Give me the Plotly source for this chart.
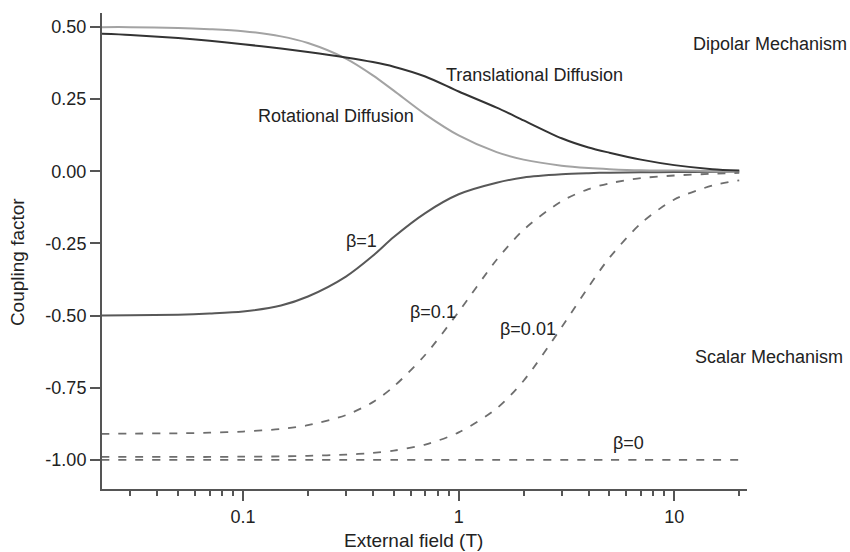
import plotly.graph_objects as go

# External field values (T) at which the coupling factors are sampled
field = [0.022, 0.03, 0.05, 0.07, 0.1, 0.15, 0.2, 0.3, 0.4, 0.5, 0.7,
         1, 1.5, 2, 3, 4, 5, 7, 10, 15, 20]

# Dipolar mechanism
rotational = [0.499, 0.499, 0.496, 0.492, 0.485, 0.467, 0.444, 0.390, 0.332, 0.279, 0.197,
              0.124, 0.066, 0.040, 0.019, 0.011, 0.007, 0.003, 0.002, 0.001, 0.0]
translational = [0.476, 0.472, 0.461, 0.452, 0.440, 0.425, 0.413, 0.394, 0.378, 0.362, 0.328,
                 0.276, 0.220, 0.176, 0.114, 0.082, 0.064, 0.040, 0.021, 0.007, 0.002]

# Scalar mechanism for several beta values
beta_1 = [-0.500, -0.499, -0.497, -0.493, -0.486, -0.465, -0.434, -0.365, -0.293, -0.228, -0.145,
          -0.080, -0.040, -0.022, -0.011, -0.007, -0.005, -0.004, -0.003, -0.002, -0.001]
beta_01 = [-0.910, -0.909, -0.908, -0.906, -0.902, -0.893, -0.880, -0.845, -0.800, -0.746, -0.636,
           -0.487, -0.307, -0.203, -0.104, -0.062, -0.042, -0.024, -0.015, -0.009, -0.006]
beta_001 = [-0.990, -0.990, -0.990, -0.990, -0.989, -0.988, -0.986, -0.982, -0.976, -0.968, -0.947,
            -0.905, -0.822, -0.726, -0.541, -0.401, -0.300, -0.181, -0.098, -0.050, -0.032]
beta_0 = [-1.0] * len(field)

y_ticks = [0.5, 0.25, 0.0, -0.25, -0.5, -0.75, -1.0]
y_tick_text = ["0.50", "0.25", "0.00", "-0.25", "-0.50", "-0.75", "-1.00"]
x_ticks = [0.1, 1, 10]
x_tick_text = ["0.1", "1", "10"]
x_minor = [0.03, 0.04, 0.05, 0.06, 0.07, 0.08, 0.09,
           0.2, 0.3, 0.4, 0.5, 0.6, 0.7, 0.8, 0.9,
           2, 3, 4, 5, 6, 7, 8, 9, 20]

FONT = "Liberation Sans, Arial, Helvetica, sans-serif"
AXIS_COLOR = "#555555"
TEXT_COLOR = "#222222"

fig = go.Figure()


def add_curve(values, color, width=2.0, dash=None):
    fig.add_trace(go.Scatter(
        x=field, y=values, mode="lines",
        line=dict(color=color, width=width, dash=dash, shape="spline", smoothing=0.8),
        showlegend=False, hoverinfo="skip",
    ))


add_curve(beta_0, "#6e6e6e", 1.8, "8px,9px")
add_curve(beta_001, "#6e6e6e", 1.8, "8px,9px")
add_curve(beta_01, "#6e6e6e", 1.8, "8px,9px")
add_curve(beta_1, "#585858", 2.0)
add_curve(rotational, "#a3a3a3", 2.0)
add_curve(translational, "#333333", 2.0)

# Curve and region labels (x in log10 units of the field axis)
labels = [
    ("Dipolar Mechanism", 1.078, 0.440),
    ("Translational Diffusion", -0.067, 0.334),
    ("Rotational Diffusion", -0.938, 0.191),
    ("Scalar Mechanism", 1.088, -0.644),
    ("\u03b2=1", -0.530, -0.241),
    ("\u03b2=0.1", -0.234, -0.487),
    ("\u03b2=0.01", 0.184, -0.547),
    ("\u03b2=0", 0.708, -0.942),
]
for text, lx, ly in labels:
    fig.add_annotation(
        x=lx, y=ly, xref="x", yref="y", text=text, showarrow=False,
        xanchor="left", yanchor="middle",
        font=dict(family=FONT, size=18, color=TEXT_COLOR),
    )

# Axis titles
fig.add_annotation(
    x=0.4837, y=-0.1085, xref="paper", yref="paper", text="External field (T)",
    showarrow=False, xanchor="center", yanchor="middle",
    font=dict(family=FONT, size=19, color=TEXT_COLOR),
)
fig.add_annotation(
    x=-0.130, y=0.477, xref="paper", yref="paper", text="Coupling factor",
    showarrow=False, xanchor="center", yanchor="middle", textangle=-90,
    font=dict(family=FONT, size=19, color=TEXT_COLOR),
)

fig.update_layout(
    width=850, height=552,
    margin=dict(l=102, r=103, t=13, b=63, autoexpand=False),
    paper_bgcolor="white", plot_bgcolor="white",
    font=dict(family=FONT, size=18, color=TEXT_COLOR),
    xaxis=dict(
        type="log", range=[-1.654, 1.337], automargin=False,
        tickmode="array", tickvals=x_ticks, ticktext=x_tick_text,
        ticks="outside", ticklen=10, tickwidth=1.5, tickcolor=AXIS_COLOR,
        minor=dict(tickmode="array", tickvals=x_minor, ticks="outside",
                   ticklen=5, tickwidth=1.5, tickcolor=AXIS_COLOR, showgrid=False),
        showline=True, linecolor=AXIS_COLOR, linewidth=2,
        showgrid=False, zeroline=False,
    ),
    yaxis=dict(
        range=[-1.101, 0.548], automargin=False,
        tickmode="array", tickvals=y_ticks, ticktext=y_tick_text,
        ticks="outside", ticklen=10, tickwidth=1.5, tickcolor=AXIS_COLOR,
        showline=True, linecolor=AXIS_COLOR, linewidth=2,
        showgrid=False, zeroline=False,
    ),
)

fig.write_html("out.html")
